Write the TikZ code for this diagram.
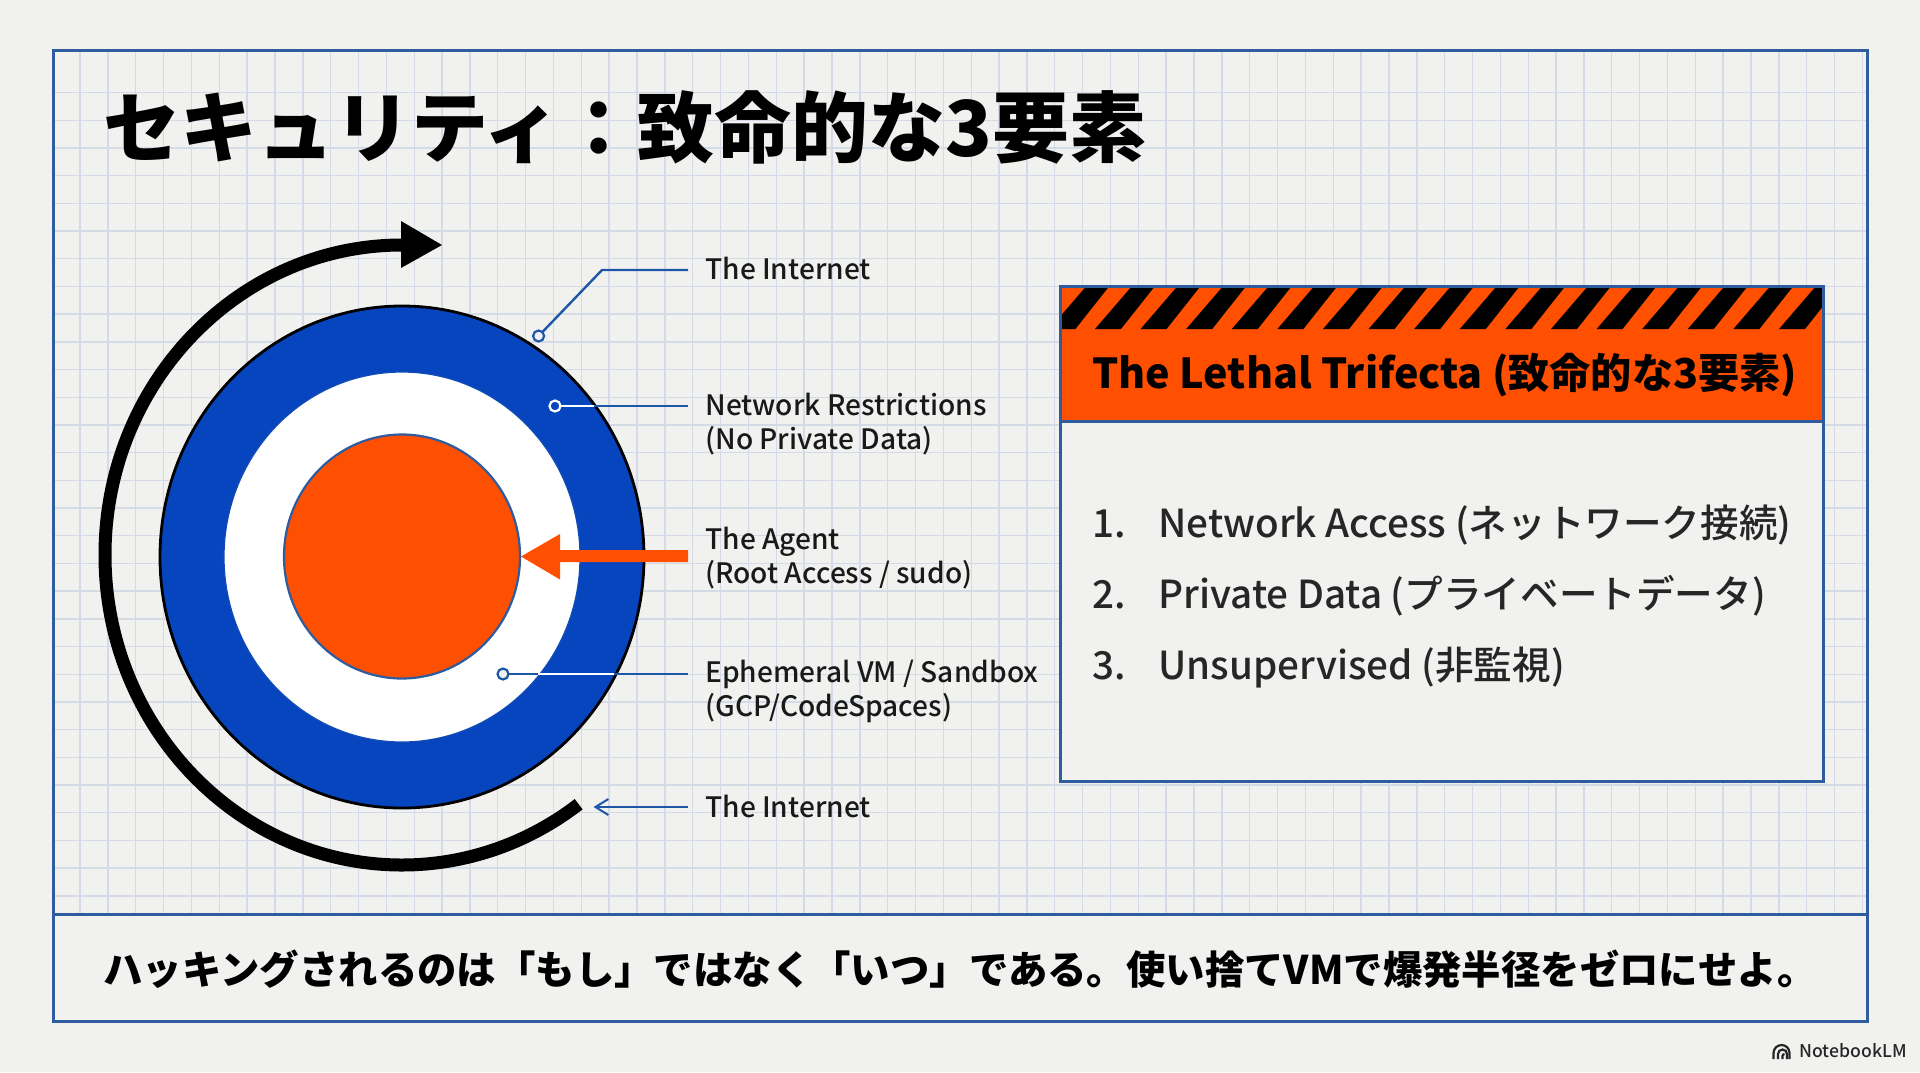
\documentclass[tikz,border=0pt]{standalone}
\usepackage{fontspec}
\usetikzlibrary{shapes.geometric,arrows.meta}
\setmainfont{Noto Sans CJK JP}
\IfFontExistsTF{Noto Sans CJK JP Medium}{\newfontfamily\medfont{Noto Sans CJK JP Medium}}{\newfontfamily\medfont{Noto Sans CJK JP}}
\definecolor{paper}{HTML}{F1F2EF}
\definecolor{gridc}{HTML}{D4DBE6}
\definecolor{frameblue}{HTML}{2F5C9E}
\definecolor{ringblue}{HTML}{0645BE}
\definecolor{hot}{HTML}{FF4F00}
\definecolor{linkblue}{HTML}{1F57A8}
\tikzset{
  frameline/.style={draw=frameblue,line width=1.5pt},
  leader/.style={draw=linkblue,line width=1.2pt},
  leaderw/.style={draw=white,line width=1.2pt},
  dot/.style={circle,draw=linkblue,fill=paper,line width=1.1pt,minimum size=5.5pt,inner sep=0pt,outer sep=0pt},
  dotw/.style={dot,draw=white,fill=ringblue},
  disc/.style={ellipse,inner sep=0pt,outer sep=0pt},
  lab/.style={anchor=base west,font=\medfont\fontsize{14.05}{17}\selectfont,align=left,inner sep=0pt,text=black!90},
  item/.style={anchor=base west,font=\medfont\fontsize{19.3}{22}\selectfont,inner sep=0pt,text=black!85},
  logoarc/.style={draw=black!85,line width=1.1pt},
}
\begin{document}
\begin{tikzpicture}[x=0.5pt,y=-0.5pt]
\useasboundingbox (0,0) rectangle (1920,1072);
\fill[paper] (0,0) rectangle (1920,1072);
% grid
\begin{scope}
\clip (53,50) rectangle (1867,914);
\foreach \i in {0,...,65} \draw[gridc,line width=0.7pt] ({80+27.85*\i},50) -- ({80+27.85*\i},914);
\foreach \j in {0,...,31} \draw[gridc,line width=0.7pt] (53,{92.5+27.7*\j}) -- (1867,{92.5+27.7*\j});
\end{scope}
\draw[frameline] (53,50) rectangle (1867,1021);
\draw[frameline] (53,914) -- (1867,914);
% title
\node[anchor=base west,inner sep=0pt,font=\fontsize{38.5}{44}\bfseries\selectfont] (title) at (103,156) {セキュリティ：致命的な3要素};
% swirl
\draw[black,line width=6.5pt] (402,245) arc[start angle=-90,end angle=-306.5,x radius=297,y radius=310];
\fill[black] (401,221) -- (442,245) -- (401,268) -- cycle;
% target
\node[disc,fill=ringblue,draw=black,line width=1.4pt,minimum width=242pt,minimum height=251pt] (outer) at (402,557) {};
\node[disc,fill=white,draw=ringblue!70!frameblue,line width=0.6pt,minimum width=178pt,minimum height=185pt] (mid) at (402,557) {};
\node[disc,fill=hot,draw=frameblue,line width=1.1pt,minimum width=118pt,minimum height=122pt] (core) at (402,556.5) {};
% labels
\node[lab] (l1) at (705,279) {The Internet};
\node[lab] (l2) at (705,449) {Network Restrictions\\(No Private Data)};
\node[lab] (l3) at (705,583) {The Agent\\(Root Access / sudo)};
\node[lab] (l4) at (705,716) {Ephemeral VM / Sandbox\\(GCP/CodeSpaces)};
\node[lab] (l5) at (705,817) {The Internet};
% leader ends
\coordinate (e1) at (688,270); \coordinate (k1) at (602,270);
\coordinate (e2) at (688,406); \coordinate (k2) at (593.5,406);
\coordinate (e3) at (688,556); \coordinate (k3) at (560,556);
\coordinate (e4) at (688,674); \coordinate (k4a) at (538,674); \coordinate (k4b) at (613.6,674);
\coordinate (e5) at (688,807); \coordinate (k5) at (593.5,807);
\node[dot] (d1) at (538.6,336) {};
\node[dotw] (d2) at (555,406) {};
\node[dot] (d4) at (503,674) {};
\draw[leader] (d1) -- (k1) -- (e1);
\draw[leaderw] (d2) -- (k2);
\draw[leader] (k2) -- (e2);
\draw[leader] (d4) -- (k4a);
\draw[leaderw] (k4a) -- (k4b);
\draw[leader] (k4b) -- (e4);
\draw[leader,-{Straight Barb[length=6.5pt,width=8pt,line width=1pt]}] (e5) -- (k5);
\fill[hot] (e3) ++(0,-6) -- ++(-128,0) -- (560,534) -- (521,556.5) -- (560,579.5) -- (560,562) -- (688,562) -- cycle;
% panel
\fill[paper] (1060,286) rectangle (1823,781);
\fill[hot] (1060,286) rectangle (1823,421);
\begin{scope}
\clip (1060,286) rectangle (1823,329);
\foreach \k in {-1,...,16}
  \fill[black] ({1095+45.6*\k},329) -- ({1121+45.6*\k},329) -- ({1155+45.6*\k},286) -- ({1132+45.6*\k},286) -- cycle;
\end{scope}
\draw[frameline] (1060,286) rectangle (1823,781);
\draw[frameline] (1060,421) -- (1823,421);
\node[anchor=base west,inner sep=0pt,font=\fontsize{20.6}{26}\bfseries\selectfont] (head) at (1092,388) {The Lethal Trifecta (致命的な3要素)};
\node[item] (n1) at (1092,537) {1.};
\node[item] (t1) at (1158,537) {Network Access (ネットワーク接続)};
\node[item] (n2) at (1092,608) {2.};
\node[item] (t2) at (1158,608) {Private Data (プライベートデータ)};
\node[item] (n3) at (1092,679) {3.};
\node[item] (t3) at (1158,679) {Unsupervised (非監視)};
% footer
\node[anchor=base west,inner sep=0pt,font=\fontsize{19.7}{25}\bfseries\selectfont] (foot) at (103,984) {ハッキングされるのは「もし」ではなく「いつ」である。使い捨てVMで爆発半径をゼロにせよ。};
% logo
\node[anchor=west,inner sep=0pt,font=\medfont\fontsize{8.8}{10}\selectfont,text=black!85] (logo) at (1799,1051) {NotebookLM};
\draw[logoarc] (1773.5,1059) -- (1773.5,1053) arc[start angle=180,end angle=360,radius=8] -- (1789.5,1059);
\draw[logoarc] (1778,1059) -- (1778,1054) arc[start angle=180,end angle=360,radius=4.5] -- (1787,1059);
\draw[logoarc] (1782.5,1059) -- (1782.5,1056) arc[start angle=180,end angle=270,radius=2];
\end{tikzpicture}
\end{document}
